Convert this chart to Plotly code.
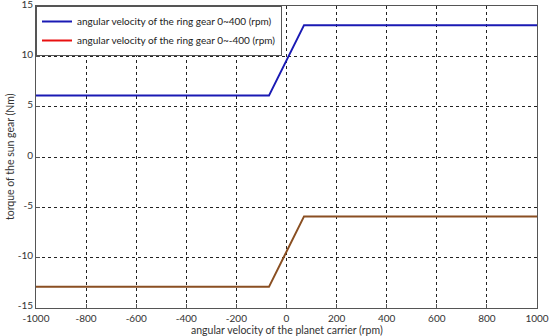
import plotly.graph_objects as go

carrier_speed = [-1000, -70, 70, 1000]
torque_pos = [6.1, 6.1, 13.1, 13.1]
torque_neg = [-12.9, -12.9, -5.9, -5.9]
names = ["angular velocity of the ring gear 0~400 (rpm)",
         "angular velocity of the ring gear 0~-400 (rpm)"]
x_ticks = [-1000, -800, -600, -400, -200, 0, 200, 400, 600, 800, 1000]
x_ticktext = ["-1000", "-800", "-600", "-400", "-200", "0", "200", "400", "600", "800", "1000"]
y_ticks = [-15, -10, -5, 0, 5, 10, 15]
y_ticktext = ["-15", "-10", "-5", "0", "5", "10", "15"]
x_title = "angular velocity of the planet carrier (rpm)"
y_title = "torque of the sun gear (Nm)"

font = "Lato, Open Sans, sans-serif"
W, H = 550, 336
L, R, T, B = 36, 13, 6, 28
pw, ph = W - L - R, H - T - B

fig = go.Figure()
fig.add_trace(go.Scatter(x=carrier_speed, y=torque_pos, mode="lines",
                         line=dict(color="#1a1ab4", width=2), name=names[0]))
fig.add_trace(go.Scatter(x=carrier_speed, y=torque_neg, mode="lines",
                         line=dict(color="#8a4f22", width=2), showlegend=False))
fig.add_trace(go.Scatter(x=[None], y=[None], mode="lines",
                         line=dict(color="#e81010", width=2), name=names[1]))

axis_common = dict(showgrid=True, gridcolor="#222", griddash="dot", gridwidth=1,
                   showline=True, linecolor="#555", linewidth=1, mirror=True,
                   zeroline=False, ticks="inside", ticklen=4, tickcolor="#555",
                   automargin=False, ticklabeloverflow="allow",
                   tickfont=dict(family=font, size=10, color="#333"))
fig.update_xaxes(range=[-1000.01, 1000.01], tickvals=x_ticks, ticktext=x_ticktext,
                 ticklabelstandoff=1, **axis_common)
fig.update_yaxes(range=[-15.001, 15.001], tickvals=y_ticks, ticktext=y_ticktext,
                 ticklabelshift=-2, **axis_common)
fig.add_annotation(text=x_title, xref="paper", yref="paper", x=0.5, y=-21.5 / ph,
                   xanchor="center", yanchor="middle", showarrow=False,
                   font=dict(family=font, size=10.5, color="#333"))
fig.add_annotation(text=y_title, xref="paper", yref="paper", x=-26 / pw, y=0.5,
                   xanchor="center", yanchor="middle", showarrow=False, textangle=-90,
                   font=dict(family=font, size=10.5, color="#333"))
fig.update_layout(width=W, height=H, margin=dict(l=L, r=R, t=T, b=B),
                  plot_bgcolor="white", paper_bgcolor="white",
                  legend=dict(x=0, y=1, xanchor="left", yanchor="top",
                              bgcolor="white", bordercolor="#555", borderwidth=1,
                              font=dict(family=font, size=10, color="#222"),
                              tracegroupgap=0, itemwidth=30),
                  font=dict(family=font))
fig.write_html("out.html", config={"displayModeBar": False},
               post_script="document.body.style.margin='0';")
